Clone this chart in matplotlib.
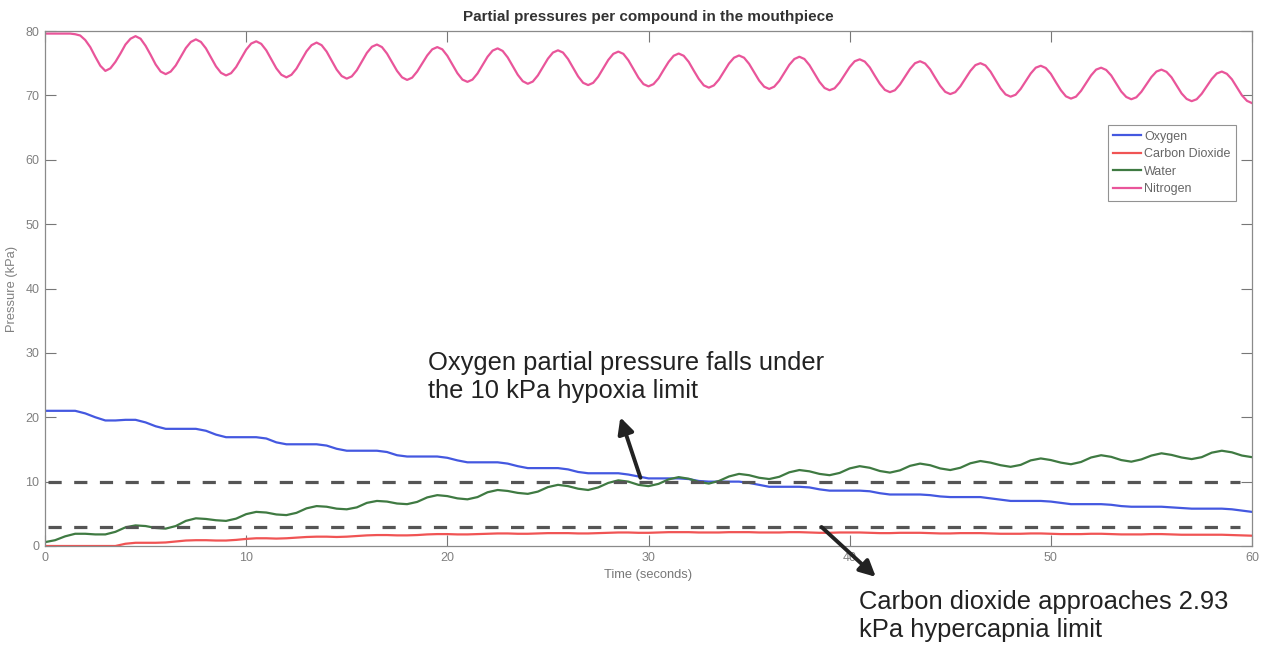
import numpy as np
import matplotlib
matplotlib.use('Agg')
import matplotlib.pyplot as plt

plt.rcParams['font.family'] = ['Liberation Sans', 'DejaVu Sans']
plt.rcParams['lines.scale_dashes'] = False

# time axis, one sample every half second (quarter second for nitrogen)
time_s = np.linspace(0, 60, 121)
time_fine = np.linspace(0, 60, 241)

# each row = one 3 s breath (t = 3k .. 3k+2.5)
oxygen = [
    21.0, 21.0, 21.0, 21.0, 20.6, 20.0,
    19.5, 19.5, 19.6, 19.6, 19.2, 18.6,
    18.2, 18.2, 18.2, 18.2, 17.9, 17.3,
    16.9, 16.9, 16.9, 16.9, 16.7, 16.1,
    15.8, 15.8, 15.8, 15.8, 15.6, 15.1,
    14.8, 14.8, 14.8, 14.8, 14.6, 14.1,
    13.9, 13.9, 13.9, 13.9, 13.7, 13.3,
    13.0, 13.0, 13.0, 13.0, 12.8, 12.4,
    12.1, 12.1, 12.1, 12.1, 11.9, 11.5,
    11.3, 11.3, 11.3, 11.3, 11.1, 10.8,
    10.5, 10.5, 10.5, 10.5, 10.4, 10.1,
    10.0, 10.0, 10.0, 10.0, 9.8, 9.5,
    9.2, 9.2, 9.2, 9.2, 9.1, 8.8,
    8.6, 8.6, 8.6, 8.6, 8.5, 8.2,
    8.0, 8.0, 8.0, 8.0, 7.9, 7.7,
    7.6, 7.6, 7.6, 7.6, 7.4, 7.2,
    7.0, 7.0, 7.0, 7.0, 6.9, 6.7,
    6.5, 6.5, 6.5, 6.5, 6.4, 6.2,
    6.1, 6.1, 6.1, 6.1, 6.0, 5.9,
    5.8, 5.8, 5.8, 5.8, 5.7, 5.5,
    5.3,
]

carbon_dioxide = [
    0.0, 0.0, 0.0, 0.0, 0.0, 0.0,
    0.0, 0.0, 0.35, 0.5, 0.5, 0.5,
    0.55, 0.7, 0.85, 0.9, 0.9, 0.85,
    0.85, 0.95, 1.1, 1.2, 1.2, 1.15,
    1.2, 1.3, 1.4, 1.45, 1.45, 1.4,
    1.45, 1.55, 1.65, 1.7, 1.7, 1.65,
    1.65, 1.7, 1.8, 1.85, 1.85, 1.8,
    1.8, 1.85, 1.9, 1.95, 1.95, 1.9,
    1.9, 1.95, 2.0, 2.0, 2.0, 1.95,
    1.95, 2.0, 2.05, 2.1, 2.1, 2.05,
    2.05, 2.1, 2.15, 2.15, 2.15, 2.1,
    2.1, 2.1, 2.15, 2.15, 2.15, 2.1,
    2.1, 2.1, 2.15, 2.15, 2.1, 2.05,
    2.05, 2.1, 2.1, 2.1, 2.05, 2.0,
    2.0, 2.05, 2.05, 2.05, 2.0, 1.95,
    1.95, 2.0, 2.0, 2.0, 1.95, 1.9,
    1.9, 1.9, 1.95, 1.95, 1.9, 1.85,
    1.85, 1.85, 1.9, 1.9, 1.85, 1.8,
    1.8, 1.8, 1.85, 1.85, 1.8, 1.75,
    1.75, 1.75, 1.75, 1.75, 1.7, 1.65,
    1.6,
]

water = [
    0.6, 0.9, 1.5, 1.9, 1.9, 1.8,
    1.8, 2.2, 2.9, 3.2, 3.1, 2.8,
    2.7, 3.1, 3.9, 4.3, 4.2, 4.0,
    3.9, 4.25, 4.95, 5.3, 5.2, 4.9,
    4.8, 5.15, 5.85, 6.2, 6.1, 5.8,
    5.7, 6.0, 6.7, 7.0, 6.9, 6.6,
    6.5, 6.85, 7.55, 7.9, 7.75, 7.4,
    7.25, 7.6, 8.35, 8.7, 8.55, 8.25,
    8.1, 8.45, 9.15, 9.5, 9.3, 8.9,
    8.7, 9.1, 9.8, 10.2, 10.0, 9.5,
    9.3, 9.65, 10.35, 10.7, 10.45, 9.95,
    9.7, 10.1, 10.8, 11.2, 11.0, 10.6,
    10.4, 10.75, 11.45, 11.8, 11.6, 11.2,
    11.0, 11.35, 12.05, 12.4, 12.15, 11.65,
    11.4, 11.75, 12.45, 12.8, 12.55, 12.05,
    11.8, 12.15, 12.85, 13.2, 12.95, 12.55,
    12.3, 12.6, 13.3, 13.6, 13.35, 12.95,
    12.7, 13.05, 13.75, 14.1, 13.85, 13.35,
    13.1, 13.45, 14.05, 14.4, 14.15, 13.75,
    13.5, 13.8, 14.5, 14.8, 14.55, 14.05,
    13.8,
]

# quarter-second samples, each row = t = 3k .. 3k+2.75
nitrogen = [
    79.6, 79.6, 79.6, 79.6, 79.6, 79.6, 79.5, 79.3, 78.6, 77.5, 76.0, 74.6,
    73.8, 74.2, 75.2, 76.5, 77.9, 78.8, 79.2, 78.8, 77.7, 76.3, 74.8, 73.7,
    73.3, 73.7, 74.65, 76.0, 77.35, 78.3, 78.7, 78.3, 77.3, 75.9, 74.5, 73.5,
    73.1, 73.45, 74.4, 75.75, 77.1, 78.05, 78.4, 78.0, 77.0, 75.6, 74.2, 73.2,
    72.8, 73.2, 74.15, 75.5, 76.85, 77.8, 78.2, 77.8, 76.8, 75.4, 74.0, 73.0,
    72.6, 72.95, 73.9, 75.25, 76.6, 77.55, 77.9, 77.5, 76.5, 75.15, 73.8, 72.8,
    72.4, 72.75, 73.7, 74.95, 76.2, 77.15, 77.5, 77.15, 76.15, 74.8, 73.45, 72.45,
    72.1, 72.45, 73.4, 74.7, 76.0, 76.95, 77.3, 76.9, 75.9, 74.55, 73.2, 72.2,
    71.8, 72.15, 73.1, 74.4, 75.7, 76.65, 77.0, 76.65, 75.65, 74.3, 72.95, 71.95,
    71.6, 71.95, 72.9, 74.2, 75.5, 76.45, 76.8, 76.45, 75.45, 74.1, 72.75, 71.75,
    71.4, 71.75, 72.65, 73.95, 75.2, 76.15, 76.5, 76.15, 75.2, 73.85, 72.55, 71.55,
    71.2, 71.55, 72.45, 73.7, 74.95, 75.85, 76.2, 75.85, 74.9, 73.6, 72.3, 71.35,
    71.0, 71.35, 72.25, 73.5, 74.75, 75.65, 76.0, 75.65, 74.7, 73.4, 72.1, 71.15,
    70.8, 71.1, 72.0, 73.2, 74.4, 75.3, 75.6, 75.25, 74.35, 73.05, 71.8, 70.85,
    70.5, 70.8, 71.7, 72.9, 74.1, 75.0, 75.3, 74.95, 74.05, 72.75, 71.5, 70.55,
    70.2, 70.5, 71.4, 72.6, 73.8, 74.7, 75.0, 74.65, 73.7, 72.4, 71.1, 70.15,
    69.8, 70.1, 71.0, 72.2, 73.4, 74.3, 74.6, 74.25, 73.35, 72.05, 70.8, 69.85,
    69.5, 69.8, 70.7, 71.9, 73.1, 74.0, 74.3, 73.95, 73.1, 71.85, 70.6, 69.75,
    69.4, 69.7, 70.55, 71.7, 72.85, 73.7, 74.0, 73.65, 72.8, 71.55, 70.3, 69.45,
    69.1, 69.4, 70.25, 71.4, 72.55, 73.4, 73.7, 73.35, 72.5, 71.25, 70.0, 69.15,
    68.8,
]

series_names = ['Oxygen', 'Carbon Dioxide', 'Water', 'Nitrogen']
series_colors = ['#4458e0', '#f05454', '#3f7a42', '#e9559a']

hypoxia_limit = 10.0
hypercapnia_limit = 2.93
limit_span = [0.15, 59.4]

fig = plt.figure(figsize=(12.63, 6.47), dpi=100)
ax = fig.add_axes([45 / 1263, 101 / 647, 1207 / 1263, 515 / 647])

series = [(time_s, oxygen), (time_s, carbon_dioxide), (time_s, water), (time_fine, nitrogen)]
for (tt, vals), name, col in zip(series, series_names, series_colors):
    ax.plot(tt, vals, color=col, lw=1.6, label=name)

# limit lines
for lim in [hypoxia_limit, hypercapnia_limit]:
    ax.plot(limit_span, [lim, lim], color='#555555', lw=2.3, dashes=(9.5, 9.0), zorder=5)

ax.set_xlim(0, 60)
ax.set_ylim(0, 80)
ax.set_xticks(range(0, 61, 10))
ax.set_yticks(range(0, 81, 10))

for sp in ax.spines.values():
    sp.set_color('#8a8a8a')
    sp.set_linewidth(0.9)
ax.tick_params(direction='in', length=8, width=0.8, color='#777777',
               labelcolor='#808080', labelsize=9, top=True, right=True, pad=4)

ax.set_title('Partial pressures per compound in the mouthpiece', fontsize=11,
             fontweight='bold', color='#333333', pad=7)
ax.set_xlabel('Time (seconds)', fontsize=9.3, color='#777777', labelpad=4)
ax.set_ylabel('Pressure (kPa)', fontsize=9.3, color='#808080', labelpad=5)

leg = ax.legend(loc='upper right', bbox_to_anchor=(0.9867, 0.8175), fontsize=9,
                frameon=True, fancybox=False, handlelength=2.2, handletextpad=0.25,
                borderpad=0.45, labelspacing=0.45, borderaxespad=0)
leg.get_frame().set_edgecolor('#777777')
leg.get_frame().set_linewidth(0.8)
for txt in leg.get_texts():
    txt.set_color('#666666')

# annotations
ax.text(19.05, 30.3, 'Oxygen partial pressure falls under\nthe 10 kPa hypoxia limit',
        fontsize=18.4, color='#222222', va='top', ha='left', linespacing=1.2)
ax.annotate('', xy=(28.6, 20.0), xytext=(29.6, 10.6),
            arrowprops=dict(arrowstyle='-|>', lw=2.8, color='#222222', mutation_scale=24,
                            shrinkA=0, shrinkB=0), zorder=6)

ax.text(40.45, -6.9, 'Carbon dioxide approaches 2.93\nkPa hypercapnia limit',
        fontsize=18.4, color='#222222', va='top', ha='left', linespacing=1.2, clip_on=False)
ax.annotate('', xy=(41.3, -4.8), xytext=(38.6, 2.95), annotation_clip=False,
            arrowprops=dict(arrowstyle='-|>', lw=2.8, color='#222222', mutation_scale=24,
                            shrinkA=0, shrinkB=0), zorder=6)

fig.savefig('out.png', dpi=100)
